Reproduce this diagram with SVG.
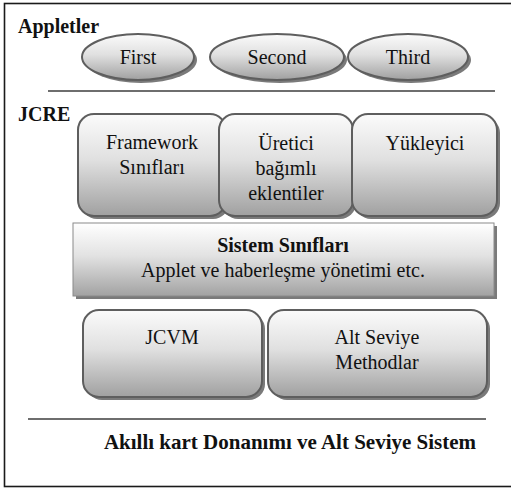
<svg xmlns="http://www.w3.org/2000/svg" width="511" height="488" viewBox="0 0 511 488">
  <defs>
    <linearGradient id="fill" x1="0" y1="0" x2="0" y2="1">
      <stop offset="0" stop-color="#fbfbfb"/>
      <stop offset="0.45" stop-color="#e0e0e0"/>
      <stop offset="1" stop-color="#a0a0a0"/>
    </linearGradient>
    <linearGradient id="fillFlat" x1="0" y1="0" x2="0" y2="1">
      <stop offset="0" stop-color="#ffffff"/>
      <stop offset="0.45" stop-color="#e2e2e2"/>
      <stop offset="1" stop-color="#a2a2a2"/>
    </linearGradient>
  </defs>
  <style>
    .frame { fill: #ffffff; stroke: #1a1a1a; stroke-width: 1.6; }
    .rule { stroke: #6e6e6e; stroke-width: 1.8; }
    .shadow { fill: #7a7a7a; }
    .shape { fill: url(#fill); stroke: #5e5e5e; stroke-width: 2; }
    .plain { fill: url(#fillFlat); stroke: #8a8a8a; stroke-width: 1; }
    .title { font-weight: bold; }
    .c { text-anchor: middle; }
  </style>

  <g font-family="Liberation Serif, Tinos, Times New Roman, DejaVu Serif, serif" font-size="20" fill="#111111">
  <!-- outer frame -->
  <rect class="frame" x="4.5" y="3.5" width="520" height="483"/>

  <!-- layer captions and separators -->
  <text class="title" x="18" y="33">Appletler</text>
  <text class="title" x="18" y="121">JCRE</text>
  <line class="rule" x1="48" y1="91" x2="495" y2="91"/>
  <line class="rule" x1="28" y1="419" x2="486" y2="419"/>
  <text class="title c" x="290" y="449" font-size="21">Akıllı kart Donanımı ve Alt Seviye Sistem</text>

  <!-- applets -->
  <g id="first">
    <ellipse class="shadow" cx="141" cy="60" rx="56" ry="23"/>
    <ellipse class="shape" cx="138" cy="57" rx="56" ry="23"/>
    <text class="c" x="138" y="64">First</text>
  </g>
  <g id="second">
    <ellipse class="shadow" cx="280" cy="60" rx="67" ry="23"/>
    <ellipse class="shape" cx="277" cy="57" rx="67" ry="23"/>
    <text class="c" x="277" y="64">Second</text>
  </g>
  <g id="third">
    <ellipse class="shadow" cx="411" cy="60" rx="60" ry="23"/>
    <ellipse class="shape" cx="408" cy="57" rx="60" ry="23"/>
    <text class="c" x="408" y="64">Third</text>
  </g>

  <!-- JCRE components -->
  <g id="framework">
    <rect class="shadow" x="81" y="117" width="148" height="102" rx="16"/>
    <rect class="shape" x="78" y="114" width="148" height="102" rx="16"/>
    <text class="c" x="152" y="149">Framework</text>
    <text class="c" x="152" y="174">Sınıfları</text>
  </g>
  <g id="uretici">
    <rect class="shadow" x="222" y="117" width="134" height="102" rx="16"/>
    <rect class="shape" x="219" y="114" width="134" height="102" rx="16"/>
    <text class="c" x="286" y="150">Üretici</text>
    <text class="c" x="286" y="175">bağımlı</text>
    <text class="c" x="286" y="200">eklentiler</text>
  </g>
  <g id="yukleyici">
    <rect class="shadow" x="355" y="117" width="145" height="102" rx="16"/>
    <rect class="shape" x="352" y="114" width="145" height="102" rx="16"/>
    <text class="c" x="425" y="150">Yükleyici</text>
  </g>
  <g id="sistem">
    <rect class="shadow" x="76" y="226" width="421" height="73"/>
    <rect class="plain" x="73" y="223" width="421" height="73"/>
    <text class="title c" x="283" y="252">Sistem Sınıfları</text>
    <text class="c" x="283" y="277">Applet ve haberleşme yönetimi etc.</text>
  </g>
  <g id="jcvm">
    <rect class="shadow" x="86" y="313" width="179" height="87" rx="16"/>
    <rect class="shape" x="83" y="310" width="179" height="87" rx="16"/>
    <text class="c" x="172" y="344">JCVM</text>
  </g>
  <g id="alt-seviye">
    <rect class="shadow" x="271" y="313" width="219" height="87" rx="16"/>
    <rect class="shape" x="268" y="310" width="219" height="87" rx="16"/>
    <text class="c" x="377" y="344">Alt Seviye</text>
    <text class="c" x="377" y="369">Methodlar</text>
  </g>

  <g id="connectors"/>
  </g>
</svg>
